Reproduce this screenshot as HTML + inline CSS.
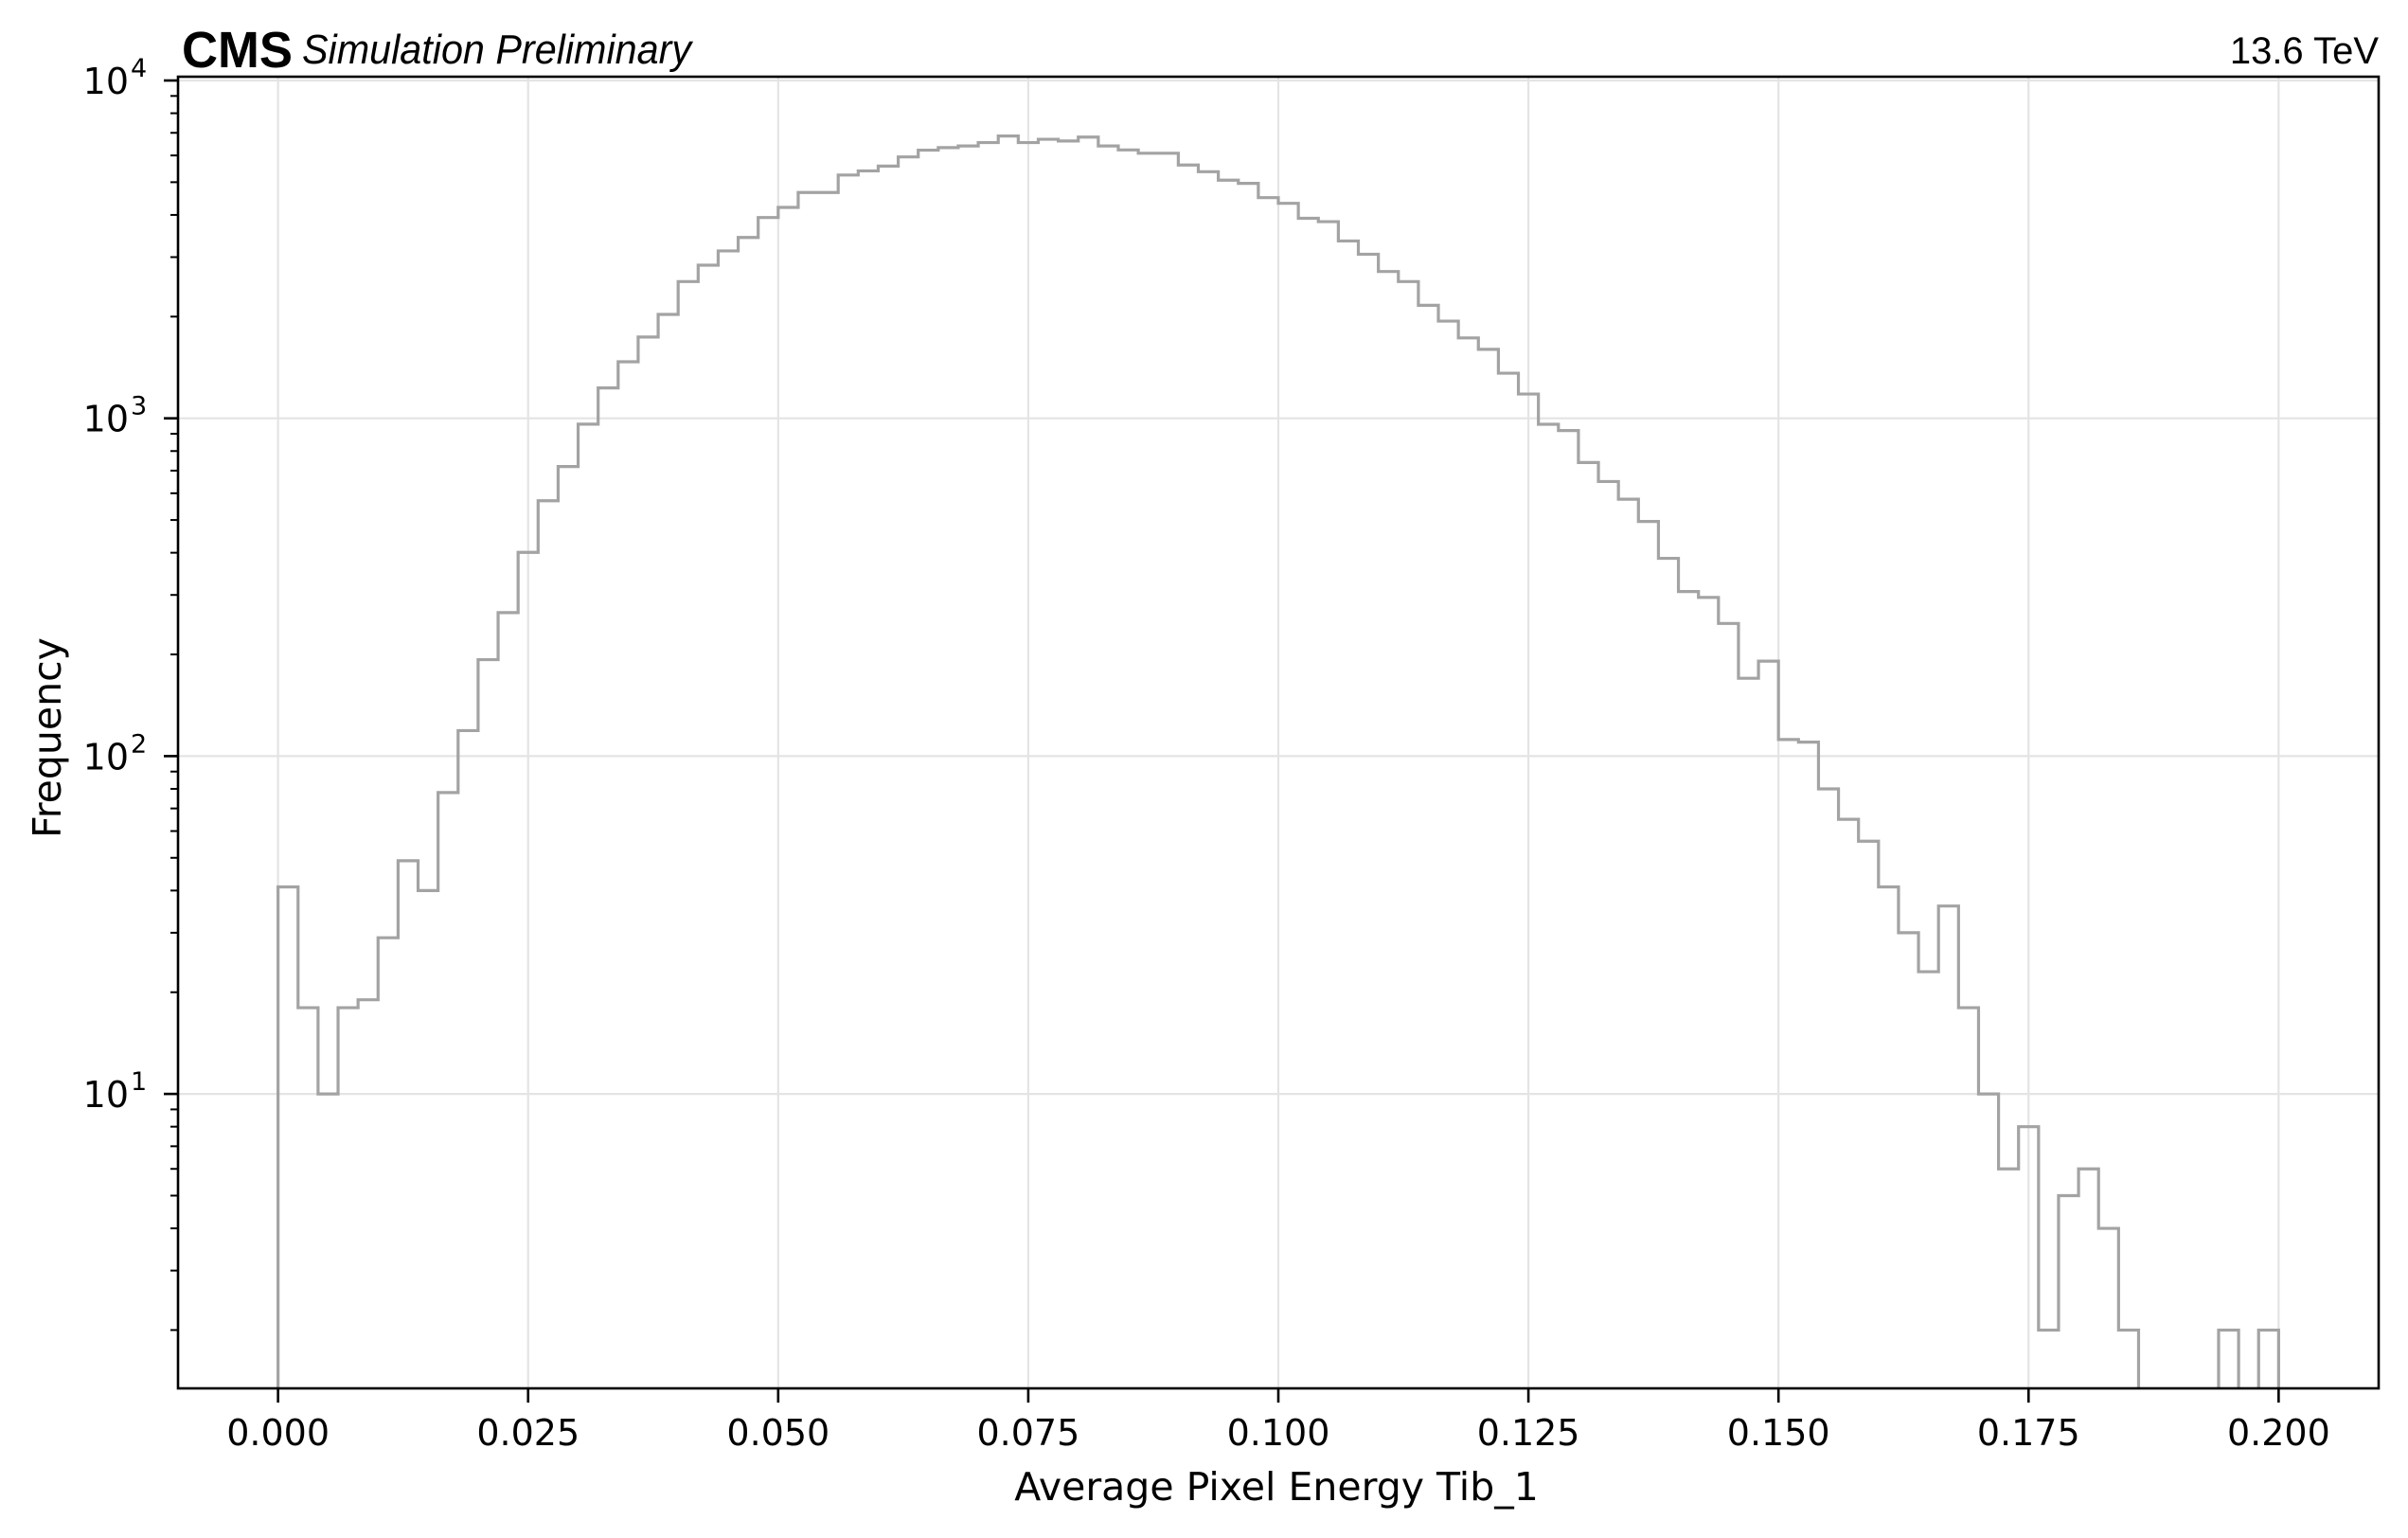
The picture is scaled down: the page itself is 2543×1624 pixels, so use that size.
<!DOCTYPE html>
<html><head><meta charset="utf-8"><style>
html,body{margin:0;padding:0;background:#fff;}
svg{display:block;font-family:"DejaVu Sans","Liberation Sans",sans-serif;}
</style></head><body>
<svg id="chart" width="2543" height="1624" viewBox="0 0 2543 1624" xmlns="http://www.w3.org/2000/svg">
<rect width="2543" height="1624" fill="#fff"/>
<g id="grid"></g>
<g id="hist"></g>
<g id="axes"></g>
<text x="192" y="71" font-family="Liberation Sans, sans-serif" font-weight="bold" font-size="54" textLength="117" lengthAdjust="spacingAndGlyphs">CMS</text>
<text x="319" y="67" font-family="Liberation Sans, sans-serif" font-style="italic" font-size="44" textLength="411" lengthAdjust="spacingAndGlyphs">Simulation Preliminary</text>
<text x="2512" y="67" text-anchor="end" font-family="Liberation Sans, sans-serif" font-size="40">13.6 TeV</text>
<text x="1348" y="1584" text-anchor="middle" font-size="41">Average Pixel Energy Tib_1</text>
<text transform="translate(64,779) rotate(-90)" text-anchor="middle" font-size="41">Frequency</text>
</svg>
<script>
const binStart = 0.0;
const binWidth = 0.002;
const counts = [41,18,10,18,19,29,49,40,78,119,193,266,401,570,720,961,1230,1470,1740,2030,2540,2840,3130,3430,3930,4210,4660,4660,5250,5400,5580,5940,6220,6330,6400,6550,6850,6550,6700,6620,6800,6400,6230,6090,6090,5620,5370,5070,4960,4500,4330,3910,3820,3350,3060,2720,2540,2160,1940,1730,1600,1360,1180,960,920,740,650,576,495,385,307,295,247,170,191,112,110,80,65,56,41,30,23,36,18,10,6,8,2,5,6,4,2,0,0,0,0,2,0,2];
const xTicks = [0.000,0.025,0.050,0.075,0.100,0.125,0.150,0.175,0.200];
const xTickLabels = ["0.000","0.025","0.050","0.075","0.100","0.125","0.150","0.175","0.200"];
const yDecades = [1,2,3,4];
const yTickLabels = ["10","10","10","10"];

const L=188,R=2512,T=81,B=1466;
const xMin=-0.01,xMax=0.21,yLogMin=0.128,yLogMax=4.0;
const yTop=85, dec=356.7;
function X(v){return L+(v-xMin)/(xMax-xMin)*(R-L);}
function Y(v){ if(v<=0) return B+50; return yTop+(4-Math.log10(v))*dec; }
const NS="http://www.w3.org/2000/svg";
function mk(tag,attrs,parent){const e=document.createElementNS(NS,tag);for(const k in attrs)e.setAttribute(k,attrs[k]);parent.appendChild(e);return e;}
const grid=document.getElementById('grid'),hist=document.getElementById('hist'),axes=document.getElementById('axes');
const defs=mk('defs',{},document.getElementById('chart'));
const cp=mk('clipPath',{id:'plotclip'},defs);
mk('rect',{x:L,y:T,width:R-L,height:B-T},cp);
hist.setAttribute('clip-path','url(#plotclip)');
grid.setAttribute('clip-path','url(#plotclip)');
xTicks.forEach((t,i)=>{
  const g=mk('line',{x1:X(t),x2:X(t),y1:T,y2:B,stroke:'#e4e4e4','stroke-width':2.2},grid);
  
  
});
yDecades.forEach(d=>{
  const y=Y(Math.pow(10,d));
  const g=mk('line',{x1:L,x2:R,y1:y,y2:y,stroke:'#e4e4e4','stroke-width':2.2},grid);
  
  
});
let d='M'+X(binStart)+','+(B+50);
counts.forEach((c,i)=>{
  const x0=X(binStart+i*binWidth),x1=X(binStart+(i+1)*binWidth),y=Y(c);
  d+=' L'+x0+','+y+' L'+x1+','+y;
});
d+=' L'+X(binStart+counts.length*binWidth)+','+(B+50);
const p=mk('path',{d:d,fill:'none',stroke:'#a3a3a3','stroke-width':3.2,'stroke-linejoin':'miter'},hist);


const fr=mk('rect',{x:L,y:T,width:R-L,height:B-T,fill:'none',stroke:'#000','stroke-width':2.6},axes);


xTicks.forEach((t,i)=>{
  const x=X(t);
  const tk=mk('line',{x1:x,x2:x,y1:B,y2:B+15,stroke:'#000','stroke-width':2.6},axes);
  
  
  const lb=mk('text',{x:x,y:B+60,'text-anchor':'middle','font-size':38},axes);
  lb.textContent=xTickLabels[i];
  
  
});
yDecades.forEach((dd,i)=>{
  const y=Y(Math.pow(10,dd));
  const tk=mk('line',{x1:L-15,x2:L,y1:y,y2:y,stroke:'#000','stroke-width':2.6},axes);
  
  
  const lb=mk('text',{x:L-52,y:y+14,'text-anchor':'end','font-size':38},axes);
  lb.textContent=yTickLabels[i];
  
  
  const sp=mk('text',{x:L-50,y:y-4,'text-anchor':'start','font-size':27},axes);
  sp.textContent=String(dd);
  
  
});
for(let dd=0;dd<4;dd++){
  for(let m=2;m<=9;m++){
    const v=m*Math.pow(10,dd);
    const lv=Math.log10(v);
    if(lv<yLogMin||lv>4.014) continue;
    const y=Y(v);
    const tk=mk('line',{x1:L-8,x2:L,y1:y,y2:y,stroke:'#000','stroke-width':2},axes);
    
    
  }
}
</script>
</body></html>
